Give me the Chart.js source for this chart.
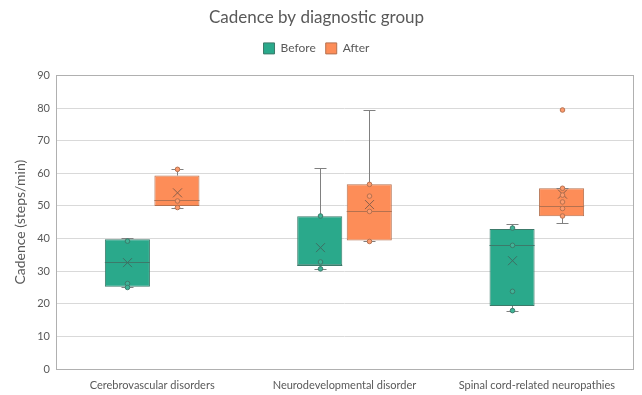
<!DOCTYPE html>
<html>
<head>
<meta charset="utf-8">
<script src="https://cdn.jsdelivr.net/npm/chart.js@4.4.1/dist/chart.umd.min.js"></script>
<style>
html, body { margin: 0; padding: 0; background: #fff; }
#wrap { width: 642px; height: 395px; }
</style>
</head>
<body>
<div id="wrap"><canvas id="chart"></canvas></div>
<script>
'use strict'
let categories = [
        'Cerebrovascular disorders',
        'Neurodevelopmental disorder',
        'Spinal cord-related neuropathies'],
    yTicks = [0, 10, 20, 30, 40, 50, 60, 70, 80, 90]

// Before
let beforeMin = [25, 30.7, 17.9],
    beforeQ1 = [25.2, 31.8, 19.3],
    beforeMedian = [32.8, 32, 37.9],
    beforeQ3 = [39.8, 46.8, 42.9],
    beforeMax = [40.1, 61.6, 44.6],
    beforeMean = [32.6, 37.2, 33.2],
    beforePoints = [[39.2, 26.2, 25], [46.9, 32.8, 30.7], [43.2, 37.9, 23.8, 17.9]]

// After
let afterMin = [49.5, 39.1, 44.7],
    afterQ1 = [50, 39.4, 46.8],
    afterMedian = [51.9, 48.4, 50],
    afterQ3 = [59.3, 56.6, 55.4],
    afterMax = [61.2, 79.3, 55.4],
    afterMean = [54, 50.4, 53.6],
    afterPoints = [[61.2, 51.5, 49.5], [56.6, 53, 48.3, 39.1], [79.4, 55.4, 53.3, 51.2, 49.2, 46.9]]

let textColor = '#595959',
    stats = [
        {min: beforeMin, med: beforeMedian, max: beforeMax, mean: beforeMean, pts: beforePoints},
        {min: afterMin, med: afterMedian, max: afterMax, mean: afterMean, pts: afterPoints}]

let crisp = v => Math.round(v) + 0.5

// more room under the legend
let legendGap = {
    id: 'legendGap',
    beforeInit(chart) {
        let fit = chart.legend.fit
        chart.legend.fit = function () {
            fit.bind(chart.legend)()
            this.height += 11
        }
    }
}

// whiskers, median, mean and points on top of the floating bars
let boxExtras = {
    id: 'boxExtras',
    beforeDatasetsDraw(chart) {
        let a = chart.chartArea, ctx = chart.ctx
        ctx.save()
        ctx.strokeStyle = '#b0b0b0'
        ctx.lineWidth = 1
        ctx.strokeRect(crisp(a.left), crisp(a.top), Math.round(a.right - a.left), Math.round(a.bottom - a.top))
        ctx.restore()
    },
    afterDatasetsDraw(chart) {
        let ctx = chart.ctx, y = chart.scales.y
        ctx.save()
        ctx.lineWidth = 1
        chart.data.datasets.forEach((ds, i) => {
            let s = stats[i]
            chart.getDatasetMeta(i).data.forEach((bar, j) => {
                let x = crisp(bar.x), half = bar.width / 2
                let yMin = crisp(y.getPixelForValue(s.min[j])),
                    yMax = crisp(y.getPixelForValue(s.max[j])),
                    yQ1 = y.getPixelForValue(ds.data[j][0]),
                    yQ3 = y.getPixelForValue(ds.data[j][1])

                ctx.strokeStyle = '#808080'
                ctx.beginPath()
                ctx.moveTo(x, yQ3); ctx.lineTo(x, yMax)
                ctx.moveTo(x - 6, yMax); ctx.lineTo(x + 6, yMax)
                ctx.moveTo(x, yQ1); ctx.lineTo(x, yMin)
                ctx.moveTo(x - 6, yMin); ctx.lineTo(x + 6, yMin)
                ctx.stroke()

                let yMed = crisp(y.getPixelForValue(s.med[j]))
                ctx.strokeStyle = ds.borderColor
                ctx.beginPath()
                ctx.moveTo(bar.x - half, yMed); ctx.lineTo(bar.x + half, yMed)
                ctx.stroke()

                let yMean = y.getPixelForValue(s.mean[j])
                ctx.strokeStyle = ds.meanColor
                ctx.beginPath()
                ctx.moveTo(x - 4.5, yMean - 4.5); ctx.lineTo(x + 4.5, yMean + 4.5)
                ctx.moveTo(x + 4.5, yMean - 4.5); ctx.lineTo(x - 4.5, yMean + 4.5)
                ctx.stroke()

                s.pts[j].forEach(v => {
                    ctx.beginPath()
                    ctx.arc(x, y.getPixelForValue(v), 2.3, 0, Math.PI * 2)
                    ctx.fillStyle = ds.pointColor
                    ctx.fill()
                    ctx.strokeStyle = ds.borderColor
                    ctx.stroke()
                })
            })
        })
        ctx.restore()
    }
}

let data = {
    labels: categories,
    datasets: [{
        label: 'Before',
        data: beforeQ1.map((v, i) => [v, beforeQ3[i]]),
        backgroundColor: '#2aa98b',
        borderColor: '#3c7a6a',
        pointColor: '#3fb497',
        meanColor: '#3d6e62',
        borderWidth: 1,
        borderSkipped: false
    }, {
        label: 'After',
        data: afterQ1.map((v, i) => [v, afterQ3[i]]),
        backgroundColor: '#fd8d58',
        borderColor: '#b5714f',
        pointColor: '#fd9a6c',
        meanColor: '#8a5f4a',
        borderWidth: 1,
        borderSkipped: false
    }]
}

let config = {
    type: 'bar',
    data: data,
    plugins: [legendGap, boxExtras],
    options: {
        responsive: true,
        maintainAspectRatio: false,
        animation: false,
        layout: {padding: {left: 0, right: 9, top: 0, bottom: 0}},
        categoryPercentage: 0.515,
        barPercentage: 0.91,
        plugins: {
            title: {
                display: true,
                text: 'Cadence by diagnostic group',
                color: textColor,
                font: {family: 'Lato', size: 17, weight: 'normal'},
                padding: {top: 7, bottom: 5}
            },
            legend: {
                position: 'top',
                labels: {
                    color: textColor,
                    font: {family: 'Lato', size: 12},
                    boxWidth: 11,
                    boxHeight: 11,
                    padding: 10
                }
            },
            tooltip: {enabled: false}
        },
        scales: {
            x: {
                grid: {display: false},
                border: {display: false},
                ticks: {
                    color: textColor,
                    font: {family: 'Lato', size: 11},
                    padding: 2,
                    maxRotation: 0
                },
                afterFit(scale) { scale.height = 26 }
            },
            y: {
                min: 0,
                max: 90,
                afterBuildTicks(scale) { scale.ticks = yTicks.map(v => ({value: v})) },
                grid: {color: '#d9d9d9', drawTicks: false},
                border: {display: false},
                ticks: {
                    color: textColor,
                    font: {family: 'Lato', size: 11},
                    padding: 6
                },
                title: {
                    display: true,
                    text: 'Cadence (steps/min)',
                    color: textColor,
                    font: {family: 'Lato', size: 14},
                    padding: {top: 12, bottom: 0}
                },
                afterFit(scale) { scale.width = 56 }
            }
        }
    }
}

let myChart = new Chart(document.getElementById('chart'), config)
</script>
</body>
</html>
